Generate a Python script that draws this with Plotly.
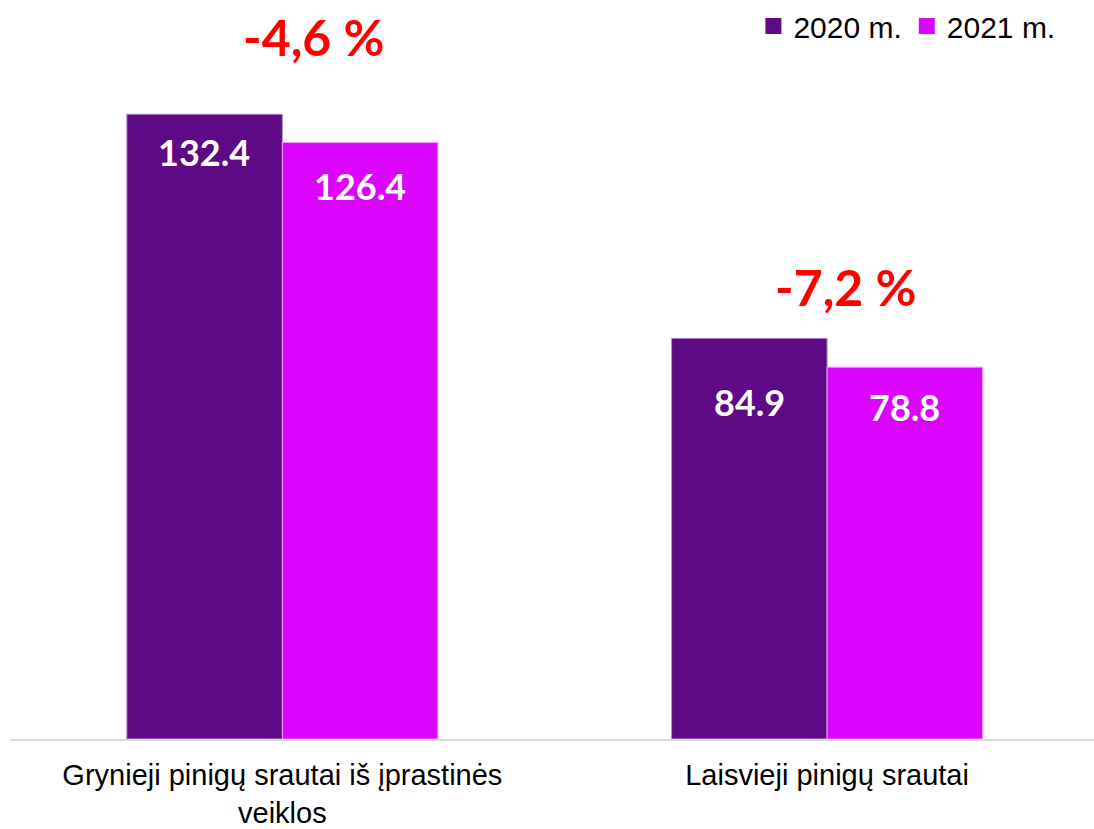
import plotly.graph_objects as go

# data
categories = ["Grynieji pinigų srautai iš įprastinės<br>veiklos", "Laisvieji pinigų srautai"]
values_2020 = [132.4, 84.9]
values_2021 = [126.4, 78.8]
change_labels = ["-4,6 %", "-7,2 %"]

COLOR_2020 = "#5E0A87"
COLOR_2021 = "#DB05FF"
LABEL_FONT = "Lato, Open Sans, sans-serif"
TEXT_FONT = "Liberation Sans, Arial, sans-serif"

fig = go.Figure()
fig.add_trace(go.Bar(
    name="2020 m.", x=categories, y=values_2020, showlegend=False,
    marker=dict(color=COLOR_2020, line=dict(color="#B48CD2", width=1)),
))
fig.add_trace(go.Bar(
    name="2021 m.", x=categories, y=values_2021, showlegend=False,
    marker=dict(color=COLOR_2021, line=dict(color="#F0A0FF", width=1)),
))

# legend-only entries so the squares come out bigger than the bar default
for name, color in [("2020 m.", COLOR_2020), ("2021 m.", COLOR_2021)]:
    fig.add_trace(go.Scatter(
        name=name, x=[None], y=[None], mode="markers",
        marker=dict(symbol="square", size=16, color=color),
    ))

# value labels inside the bars, near the top
label_shift = [[-38, -64], [-43, -40]]
for s, (vals, off) in enumerate(zip([values_2020, values_2021], [-0.143, 0.143])):
    for i, v in enumerate(vals):
        fig.add_annotation(
            x=i + off, y=v, text=f"<b>{v:.1f}</b>", showarrow=False,
            yshift=label_shift[s][i], xref="x", yref="y",
            font=dict(family=LABEL_FONT, size=36, color="white"),
        )

# change labels above each group
change_pos = [[0.058, 148.7], [0.033, 95.8]]
for i, txt in enumerate(change_labels):
    fig.add_annotation(
        x=change_pos[i][0] + i, y=change_pos[i][1], text=f"<b>{txt}</b>",
        showarrow=False, xref="x", yref="y",
        font=dict(family=LABEL_FONT, size=50, color="#FF0000"),
    )

fig.update_layout(
    width=1094, height=829,
    margin=dict(l=10, r=0, t=0, b=90),
    plot_bgcolor="white", paper_bgcolor="white",
    barmode="group", bargap=0.429, bargroupgap=0,
    showlegend=True,
    legend=dict(
        orientation="h", x=0.969, xanchor="right", y=1.0, yanchor="top",
        font=dict(family=TEXT_FONT, size=30, color="black"),
        itemwidth=30, tracegroupgap=0,
    ),
    xaxis=dict(
        type="category", range=[-0.5, 1.49], automargin=False,
        showline=True, linecolor="#D9D9D9", linewidth=2,
        showgrid=False, ticks="", ticklabelstandoff=9,
        tickfont=dict(family=TEXT_FONT, size=29, color="black"),
    ),
    yaxis=dict(
        range=[0, 156.6], showgrid=False, zeroline=False, automargin=False,
        showticklabels=False, showline=False,
    ),
)

# page body has a default 8px margin; drop it so the figure fills the window
fig.write_html(
    "out.html",
    config={"displayModeBar": False},
    post_script="document.body.style.margin='0';",
)
